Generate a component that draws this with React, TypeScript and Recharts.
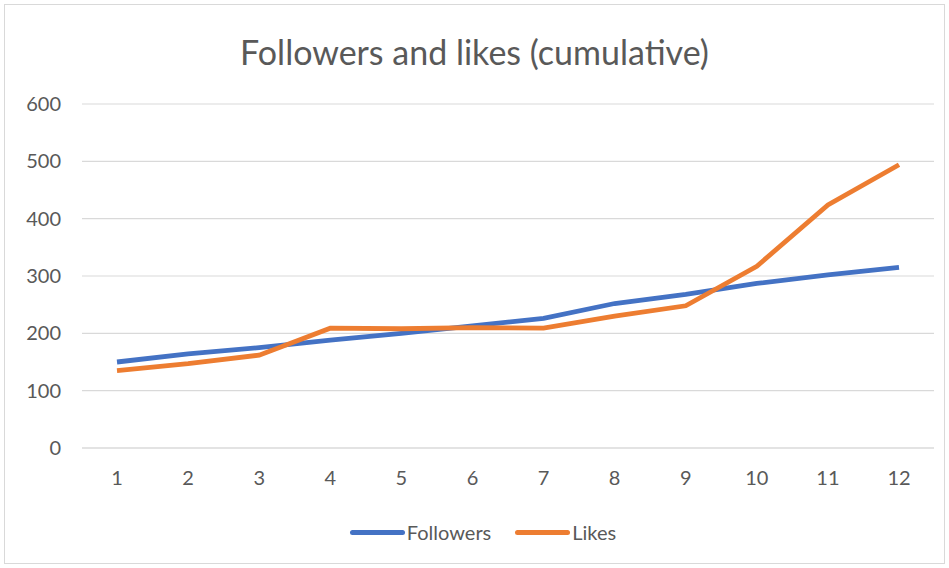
import { LineChart, Line, XAxis, YAxis, CartesianGrid, Legend } from "recharts";

const months = ["1", "2", "3", "4", "5", "6", "7", "8", "9", "10", "11", "12"];
const followers = [150, 164, 175, 188, 200, 213, 226, 252, 268, 287, 302, 315];
const likes = [135, 147, 162, 209, 208, 210, 209, 230, 248, 317, 424, 494];
const yTicks = [0, 100, 200, 300, 400, 500, 600];

const data = months.map((m, i) => ({ month: m, followers: followers[i], likes: likes[i] }));

const FONT = "Lato, 'Open Sans', sans-serif";
const TEXT = "#595959";

const series = [
  { key: "followers", name: "Followers", color: "#4472C4" },
  { key: "likes", name: "Likes", color: "#ED7D31" },
];

function LegendContent() {
  return (
    <div style={{ display: "flex", justifyContent: "center", alignItems: "center", gap: 24, fontFamily: FONT, fontSize: 20, color: TEXT, lineHeight: "24px" }}>
      {series.map((s) => (
        <div key={s.key} style={{ display: "flex", alignItems: "center" }}>
          <span style={{ display: "inline-block", width: 55, height: 5, borderRadius: 3, background: s.color, marginRight: 2 }} />
          <span>{s.name}</span>
        </div>
      ))}
    </div>
  );
}

export default function App() {
  return (
    <div style={{ position: "fixed", left: 0, top: 0, width: 949, height: 568, background: "#fff" }}>
      <div style={{ position: "absolute", left: 4, top: 4, width: 939, height: 558, border: "1px solid #d9d9d9" }} />
      <div style={{ position: "absolute", left: 0, top: 31, width: 949, textAlign: "center", fontFamily: FONT, fontSize: 34, color: TEXT }}>
        Followers and likes (cumulative)
      </div>
      <LineChart width={949} height={568} data={data} margin={{ top: 104, right: 15, left: 32, bottom: 30 }} style={{ position: "absolute", left: 0, top: 0 }}>
        <CartesianGrid vertical={false} stroke="#d9d9d9" strokeWidth={1.2} />
        <XAxis
          dataKey="month"
          height={50}
          padding={{ left: 35, right: 35 }}
          axisLine={{ stroke: "#d9d9d9", strokeWidth: 1.2 }}
          tickLine={false}
          tickMargin={17}
          tick={{ fill: TEXT, fontSize: 20, fontFamily: FONT }}
        />
        <YAxis
          domain={[0, 600]}
          ticks={yTicks}
          width={50}
          axisLine={false}
          tickLine={false}
          tickMargin={15}
          tick={{ fill: TEXT, fontSize: 20, fontFamily: FONT }}
        />
        <Legend verticalAlign="bottom" height={40} wrapperStyle={{ bottom: 8 }} content={<LegendContent />} />
        {series.map((s) => (
          <Line
            key={s.key}
            type="linear"
            dataKey={s.key}
            name={s.name}
            stroke={s.color}
            strokeWidth={4.8}
            dot={false}
            isAnimationActive={false}
          />
        ))}
      </LineChart>
    </div>
  );
}
